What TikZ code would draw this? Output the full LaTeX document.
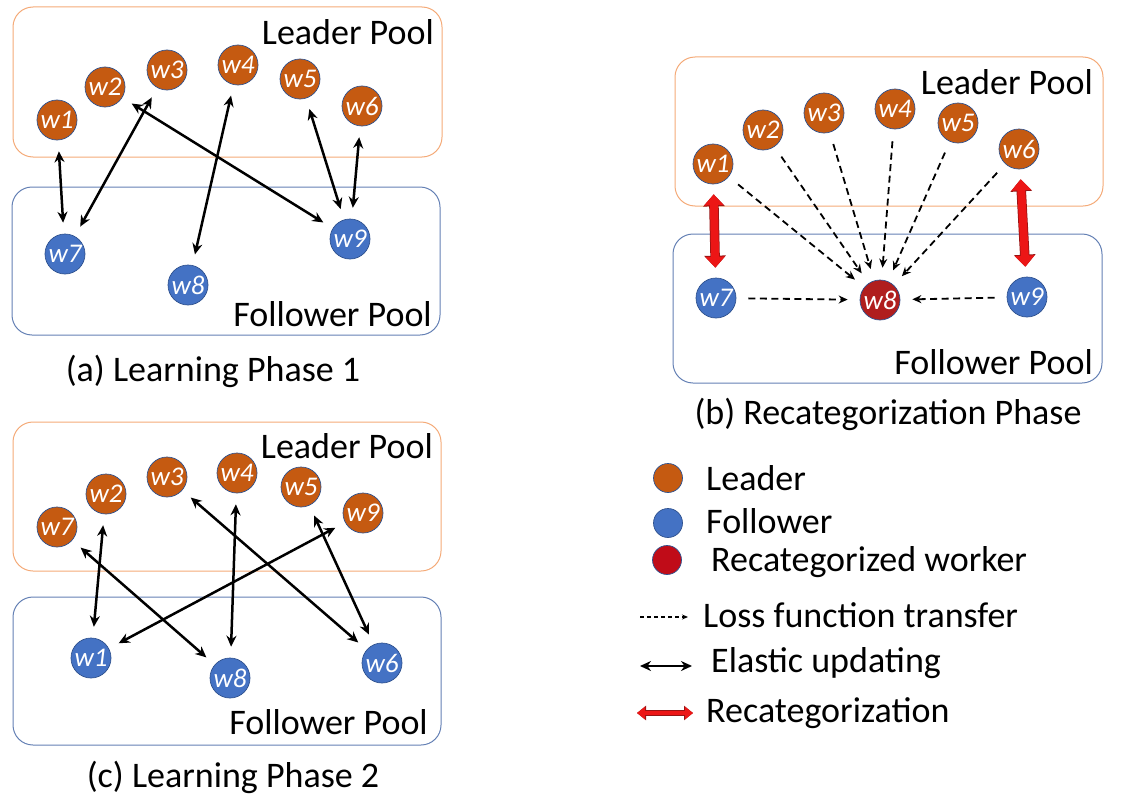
\documentclass[tikz,border=0pt]{standalone}
\usepackage{fontspec}
\setmainfont{Carlito}
\usetikzlibrary{arrows.meta}
\definecolor{leadorange}{RGB}{197,90,17}
\definecolor{followblue}{RGB}{68,114,196}
\definecolor{recatred}{RGB}{176,30,30}
\definecolor{legendred}{RGB}{192,12,24}
\definecolor{nodeedge}{RGB}{47,82,143}
\definecolor{leadbox}{RGB}{244,170,120}
\definecolor{followbox}{RGB}{100,128,180}
\definecolor{arrowred}{RGB}{236,22,22}
\definecolor{arrowedge}{RGB}{150,20,20}

\begin{document}
\begin{tikzpicture}[x=1pt, y=-1pt,
    worker/.style={circle, minimum size=40pt, inner sep=0pt, draw=nodeedge, line width=0.7pt, text=white, font=\fontsize{27}{27}\selectfont\itshape},
    leader/.style={worker, fill=leadorange},
    follower/.style={worker, fill=followblue},
    recat/.style={worker, fill=recatred},
    pool/.style={rounded corners=20pt, line width=1pt},
    poollabel/.style={anchor=east, inner sep=0pt, font=\fontsize{36}{36}\selectfont},
    caption/.style={anchor=base, inner sep=0pt, font=\fontsize{36}{36}\selectfont},
    legendtext/.style={anchor=west, inner sep=0pt, font=\fontsize{36}{36}\selectfont},
    elastic/.style={{Stealth[length=11pt,width=10pt]}-{Stealth[length=11pt,width=10pt]}, line width=2.5pt, shorten <=11pt, shorten >=11pt},
    transfer/.style={-{Stealth[length=9pt,width=8pt]}, dash pattern=on 7pt off 4.5pt, line width=1.8pt, shorten <=12pt, shorten >=12pt},
    recatarrow/.style={{Triangle[length=11pt,width=19pt]}-{Triangle[length=11pt,width=19pt]}, draw=arrowred, line width=8pt, shorten <=10pt, shorten >=10pt,
        preaction={draw=arrowedge, line width=9.5pt, {Triangle[length=12pt,width=21pt]}-{Triangle[length=12pt,width=21pt]}}}]
    \useasboundingbox (0,0) rectangle (1132,800);

    % (a) learning phase 1
    \draw[pool, draw=leadbox] (13,7) rectangle (442,157);
    \draw[pool, draw=followbox] (12,187) rectangle (440,335);
    \node[poollabel] (aleadlbl) at (434,32) {Leader Pool};
    \node[poollabel] (afollbl) at (432,314) {Follower Pool};
    \node[leader] (a1) at (57,120) {w1};
    \node[leader] (a2) at (105,87) {w2};
    \node[leader] (a3) at (167,70) {w3};
    \node[leader] (a4) at (238,65) {w4};
    \node[leader] (a5) at (300,79) {w5};
    \node[leader] (a6) at (362,106) {w6};
    \node[follower] (a7) at (65,254) {w7};
    \node[follower] (a8) at (188,285) {w8};
    \node[follower] (a9) at (350,239) {w9};
    \draw[elastic] (a1) -- (a7);
    \draw[elastic] (a3) -- (a7);
    \draw[elastic] (a2) -- (a9);
    \draw[elastic] (a4) -- (a8);
    \draw[elastic] (a5) -- (a9);
    \draw[elastic] (a6) -- (a9);
    \node[caption] (acap) at (213,381) {(a) Learning Phase 1};

    % (b) recategorization phase
    \draw[pool, draw=leadbox] (675,57) rectangle (1103,206);
    \draw[pool, draw=followbox] (673,234) rectangle (1102,383);
    \node[poollabel] (bleadlbl) at (1093,82) {Leader Pool};
    \node[poollabel] (bfollbl) at (1093,362) {Follower Pool};
    \node[leader] (b1) at (713,164) {w1};
    \node[leader] (b2) at (763,130) {w2};
    \node[leader] (b3) at (824,113) {w3};
    \node[leader] (b4) at (895,109) {w4};
    \node[leader] (b5) at (958,123) {w5};
    \node[leader] (b6) at (1019,149) {w6};
    \node[follower] (b7) at (716,298) {w7};
    \node[recat] (b8) at (880,300) {w8};
    \node[follower] (b9) at (1027,297) {w9};
    \foreach \i in {1,...,7,9}
        \draw[transfer] (b\i) -- (b8);
    \draw[recatarrow] (b1) -- (b7);
    \draw[recatarrow] (b6) -- (b9);
    \node[caption] (bcap) at (888,424) {(b) Recategorization Phase};

    % (c) learning phase 2
    \draw[pool, draw=leadbox] (13,422) rectangle (441,571);
    \draw[pool, draw=followbox] (13,597) rectangle (441,745);
    \node[poollabel] (cleadlbl) at (433,446) {Leader Pool};
    \node[poollabel] (cfollbl) at (428,722) {Follower Pool};
    \node[leader] (c7) at (57,527) {w7};
    \node[leader] (c2) at (106,494) {w2};
    \node[leader] (c3) at (167,477) {w3};
    \node[leader] (c4) at (237,473) {w4};
    \node[leader] (c5) at (301,487) {w5};
    \node[leader] (c9) at (363,513) {w9};
    \node[follower] (c1) at (91,658) {w1};
    \node[follower] (c8) at (230,678) {w8};
    \node[follower] (c6) at (382,663) {w6};
    \draw[elastic] (c2) -- (c1);
    \draw[elastic] (c9) -- (c1);
    \draw[elastic] (c7) -- (c8);
    \draw[elastic] (c4) -- (c8);
    \draw[elastic] (c3) -- (c6);
    \draw[elastic] (c5) -- (c6);
    \node[caption] (ccap) at (233,787) {(c) Learning Phase 2};

    % legend
    \node[worker, minimum size=29pt, fill=leadorange] (kleader) at (668,478) {};
    \node[worker, minimum size=29pt, fill=followblue] (kfollower) at (668,523) {};
    \node[worker, minimum size=29pt, fill=legendred] (krecat) at (667,560) {};
    \node[legendtext] (tleader) at (706,478) {Leader};
    \node[legendtext] (tfollower) at (706,521) {Follower};
    \node[legendtext] (trecat) at (711,562) {Recategorized worker};
    \coordinate (kd1) at (640,617);
    \coordinate (kd2) at (688,617);
    \coordinate (ke1) at (640,666);
    \coordinate (ke2) at (692,666);
    \coordinate (kr1) at (637,713);
    \coordinate (kr2) at (693,713);
    \draw[transfer, line width=1.3pt, dash pattern=on 4pt off 3pt, -{Stealth[length=6pt,width=5pt]}, shorten <=0pt, shorten >=0pt] (kd1) -- (kd2);
    \draw[elastic, line width=2.2pt, shorten <=0pt, shorten >=0pt] (ke1) -- (ke2);
    \draw[draw=arrowred, line width=4.5pt, {Triangle[length=8pt,width=12pt]}-{Triangle[length=8pt,width=12pt]},
        preaction={draw=arrowedge, line width=5.8pt, {Triangle[length=9pt,width=14pt]}-{Triangle[length=9pt,width=14pt]}}] (kr1) -- (kr2);
    \node[legendtext] (tloss) at (703,615) {Loss function transfer};
    \node[legendtext] (telastic) at (711,663) {Elastic updating};
    \node[legendtext] (trecatarrow) at (706,713) {Recategorization};
\end{tikzpicture}
\end{document}
